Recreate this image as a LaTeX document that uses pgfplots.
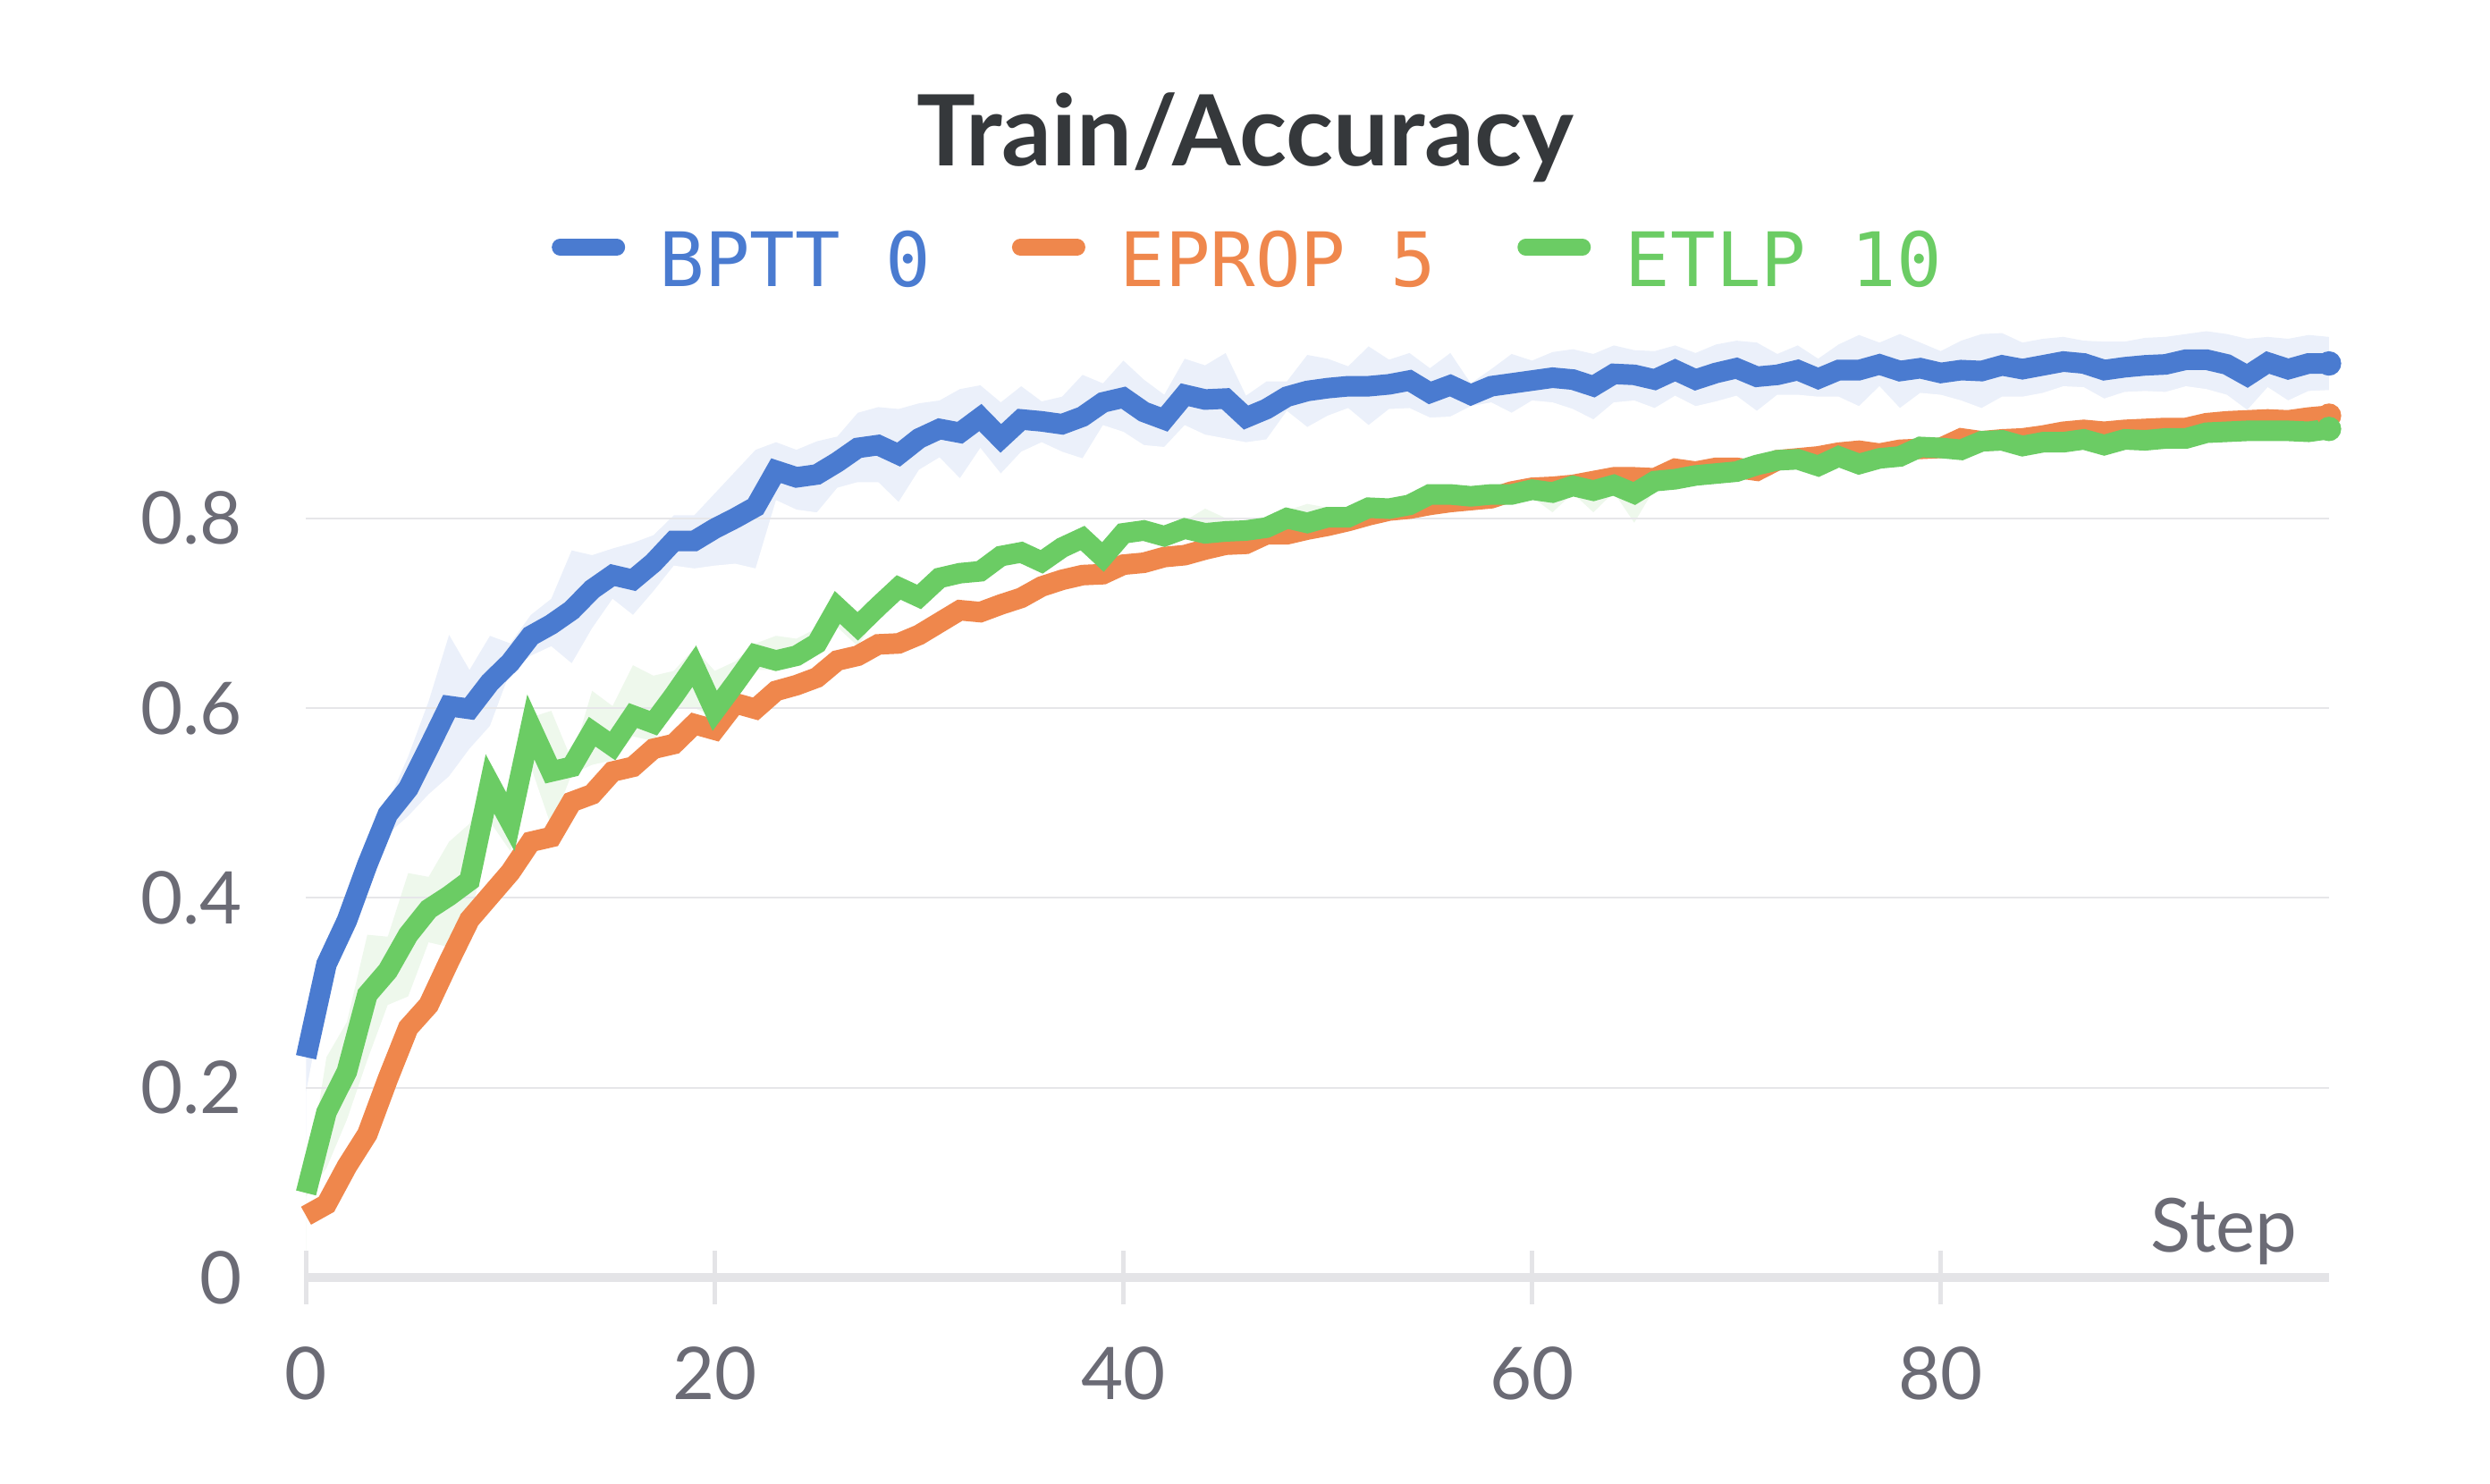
\documentclass[border=0pt]{standalone}
\usepackage{fontspec}
\setmainfont{Lato}
\newfontfamily\monofont{DejaVu Sans Mono}
\usepackage{pgfplots}
\usepackage{pgfplotstable}
\pgfplotsset{compat=1.18}
\definecolor{cblue}{HTML}{4A7BD0}
\definecolor{corange}{HTML}{EF874C}
\definecolor{cgreen}{HTML}{6BCC64}
\definecolor{bandblue}{HTML}{EBF0FA}
\definecolor{bandgreen}{HTML}{EEF8EC}
\definecolor{titlegray}{HTML}{35383B}
\definecolor{tickgray}{HTML}{6B6B75}
\definecolor{gridgray}{HTML}{E6E6E9}
\definecolor{axisgray}{HTML}{E4E4E7}

\pgfplotstableread{
s b bu bl o g gu gl
0 0.232 0.245 0.195 0.065 0.089 0.095 0.085
1 0.330 0.340 0.310 0.077 0.174 0.232 0.115
2 0.376 0.385 0.360 0.117 0.217 0.269 0.166
3 0.435 0.445 0.420 0.151 0.298 0.361 0.229
4 0.488 0.500 0.467 0.209 0.323 0.359 0.287
5 0.515 0.549 0.486 0.263 0.361 0.426 0.296
6 0.558 0.607 0.509 0.287 0.388 0.422 0.353
7 0.602 0.677 0.528 0.333 0.402 0.459 0.348
8 0.599 0.640 0.557 0.377 0.418 0.478 0.369
9 0.627 0.676 0.581 0.402 0.520 0.536 0.480
10 0.648 0.668 0.639 0.427 0.480 0.500 0.449
11 0.676 0.698 0.655 0.459 0.580 0.590 0.538
12 0.688 0.715 0.665 0.464 0.533 0.597 0.475
13 0.703 0.766 0.647 0.501 0.538 0.545 0.530
14 0.725 0.761 0.684 0.509 0.575 0.618 0.540
15 0.740 0.768 0.715 0.533 0.560 0.602 0.545
16 0.735 0.774 0.698 0.538 0.592 0.645 0.570
17 0.753 0.782 0.723 0.557 0.584 0.634 0.565
18 0.776 0.803 0.750 0.562 0.613 0.639 0.600
19 0.776 0.803 0.747 0.583 0.644 0.663 0.600
20 0.789 0.826 0.750 0.577 0.597 0.639 0.590
21 0.800 0.849 0.752 0.605 0.626 0.649 0.610
22 0.812 0.872 0.747 0.599 0.656 0.668 0.640
23 0.850 0.880 0.819 0.618 0.650 0.676 0.640
24 0.843 0.872 0.809 0.624 0.655 0.673 0.645
25 0.846 0.881 0.806 0.632 0.668 0.684 0.655
26 0.859 0.886 0.832 0.650 0.706 0.712 0.685
27 0.874 0.911 0.838 0.655 0.686 0.700 0.665
28 0.877 0.917 0.838 0.667 0.707 0.717 0.697
29 0.867 0.915 0.817 0.668 0.727 0.737 0.717
30 0.884 0.921 0.851 0.677 0.717 0.727 0.707
31 0.894 0.924 0.864 0.690 0.737 0.745 0.727
32 0.890 0.936 0.842 0.703 0.742 0.752 0.732
33 0.906 0.940 0.874 0.701 0.744 0.756 0.734
34 0.884 0.922 0.847 0.709 0.760 0.768 0.750
35 0.904 0.939 0.870 0.716 0.764 0.772 0.752
36 0.902 0.923 0.880 0.728 0.754 0.764 0.744
37 0.899 0.928 0.870 0.735 0.769 0.777 0.759
38 0.907 0.951 0.863 0.740 0.779 0.787 0.769
39 0.922 0.942 0.898 0.741 0.759 0.769 0.745
40 0.927 0.966 0.891 0.751 0.784 0.792 0.774
41 0.912 0.946 0.877 0.753 0.787 0.795 0.777
42 0.904 0.930 0.875 0.759 0.781 0.790 0.771
43 0.930 0.968 0.898 0.761 0.789 0.797 0.779
44 0.925 0.961 0.888 0.767 0.784 0.810 0.776
45 0.926 0.974 0.884 0.772 0.786 0.800 0.778
46 0.906 0.929 0.880 0.773 0.787 0.795 0.779
47 0.915 0.944 0.883 0.783 0.790 0.798 0.782
48 0.928 0.944 0.913 0.783 0.800 0.808 0.792
49 0.934 0.972 0.896 0.788 0.795 0.815 0.787
50 0.937 0.968 0.908 0.792 0.801 0.811 0.793
51 0.939 0.960 0.916 0.797 0.801 0.809 0.793
52 0.939 0.981 0.898 0.803 0.811 0.819 0.803
53 0.941 0.967 0.915 0.808 0.810 0.818 0.802
54 0.945 0.974 0.916 0.810 0.814 0.822 0.806
55 0.932 0.958 0.906 0.814 0.825 0.833 0.817
56 0.940 0.974 0.907 0.817 0.825 0.833 0.817
57 0.930 0.942 0.918 0.819 0.823 0.831 0.815
58 0.939 0.957 0.922 0.821 0.825 0.835 0.817
59 0.942 0.973 0.911 0.828 0.825 0.833 0.817
60 0.945 0.966 0.924 0.832 0.830 0.838 0.822
61 0.948 0.975 0.922 0.833 0.827 0.835 0.806
62 0.946 0.978 0.915 0.835 0.834 0.842 0.826
63 0.939 0.973 0.904 0.839 0.829 0.837 0.806
64 0.952 0.982 0.922 0.843 0.835 0.845 0.827
65 0.951 0.977 0.924 0.843 0.826 0.834 0.795
66 0.946 0.976 0.916 0.842 0.839 0.847 0.831
67 0.956 0.982 0.929 0.852 0.841 0.849 0.833
68 0.946 0.974 0.918 0.849 0.845 0.853 0.837
69 0.953 0.983 0.923 0.853 0.847 0.855 0.839
70 0.958 0.987 0.929 0.853 0.849 0.857 0.841
71 0.949 0.985 0.913 0.850 0.856 0.864 0.848
72 0.951 0.973 0.930 0.861 0.861 0.869 0.853
73 0.956 0.982 0.930 0.863 0.862 0.870 0.854
74 0.947 0.968 0.928 0.865 0.855 0.863 0.847
75 0.956 0.983 0.928 0.869 0.865 0.873 0.857
76 0.956 0.993 0.918 0.871 0.857 0.865 0.849
77 0.962 0.985 0.939 0.868 0.863 0.871 0.855
78 0.955 0.994 0.916 0.872 0.865 0.873 0.857
79 0.958 0.985 0.932 0.873 0.875 0.883 0.867
80 0.953 0.976 0.930 0.874 0.874 0.882 0.866
81 0.956 0.987 0.924 0.884 0.872 0.880 0.864
82 0.955 0.994 0.916 0.881 0.881 0.889 0.873
83 0.961 0.995 0.928 0.883 0.882 0.890 0.874
84 0.957 0.985 0.928 0.884 0.876 0.884 0.868
85 0.961 0.989 0.932 0.887 0.880 0.888 0.872
86 0.965 0.991 0.939 0.891 0.880 0.888 0.872
87 0.963 0.987 0.938 0.893 0.883 0.891 0.875
88 0.956 0.986 0.926 0.891 0.877 0.885 0.869
89 0.959 0.986 0.933 0.893 0.883 0.891 0.875
90 0.961 0.990 0.934 0.894 0.882 0.890 0.874
91 0.962 0.991 0.933 0.895 0.884 0.892 0.876
92 0.967 0.994 0.939 0.895 0.884 0.892 0.876
93 0.967 0.997 0.936 0.900 0.890 0.898 0.882
94 0.962 0.994 0.930 0.902 0.891 0.899 0.883
95 0.950 0.989 0.914 0.903 0.892 0.900 0.884
96 0.964 0.991 0.938 0.904 0.892 0.900 0.884
97 0.957 0.989 0.924 0.903 0.892 0.900 0.884
98 0.963 0.993 0.934 0.906 0.891 0.899 0.883
99 0.963 0.991 0.935 0.908 0.894 0.902 0.886
}\acctable

\pgfplotsset{
  geom/.style={at={(51.345pt,34.665pt)}, anchor=south west,
    scale only axis, width=339.4pt, height=159.24pt,
    xmin=0, xmax=99, ymin=0, ymax=1, clip=false},
}

\begin{document}
\begin{tikzpicture}
\useasboundingbox (0,0) rectangle (417.75pt,249pt);
% background: shaded min/max bands
\begin{axis}[geom, hide axis]
\addplot[fill=bandblue, draw=none] table[x=s,y=bu]{\acctable} \closedcycle;
\addplot[fill=white, draw=none] table[x=s,y=bl]{\acctable} \closedcycle;
\addplot[fill=bandgreen, draw=none] table[x=s,y=gu]{\acctable} \closedcycle;
\addplot[fill=white, draw=none] table[x=s,y=gl]{\acctable} \closedcycle;
\end{axis}
\begin{axis}[geom,
  axis x line=bottom, axis y line=left,
  y axis line style={draw=none},
  x axis line style={draw=axisgray, line width=1.5pt, -},
  xtick={0,20,40,60,80}, xticklabels={0,20,40,60,80},
  ytick={0,0.2,0.4,0.6,0.8}, yticklabels={0,0.2,0.4,0.6,0.8},
  tick align=center, major tick length=9pt,
  xtick style={draw=axisgray, line width=0.67pt},
  ytick style={draw=none},
  ymajorgrids, grid style={draw=gridgray, line width=0.3pt},
  xticklabel style={anchor=base, inner sep=0pt, yshift=-16pt, text=tickgray, font=\fontsize{12.2pt}{14pt}\selectfont},
  yticklabel style={anchor=east, inner sep=0pt, xshift=-6pt, text=tickgray, font=\fontsize{12.2pt}{14pt}\selectfont},
  legend columns=3,
  legend style={at={(rel axis cs:0.468,1.0691)}, anchor=center, draw=none, fill=none,
    font=\monofont\fontsize{12.6pt}{14pt}\selectfont,
    /tikz/every even column/.append style={column sep=11.6pt}},
  legend image code/.code={\path[draw=none, fill=none] (0pt,2.6pt) -- (16.1pt,2.6pt);
    \draw[#1, line width=2.8pt, line cap=round] (1.4pt,2.6pt) -- (10.9pt,2.6pt);},
]
\addplot[cblue, line width=3.45pt, line join=miter, miter limit=4,
  mark=*, mark repeat=100, mark phase=100, mark size=1.95pt, mark options={line width=0.2pt}] table[x=s,y=b]{\acctable};
\addlegendentry{\textcolor{cblue}{BPTT 0}}
\addplot[corange, line width=3.45pt, line join=miter, miter limit=4,
  mark=*, mark repeat=100, mark phase=100, mark size=1.95pt, mark options={line width=0.2pt}] table[x=s,y=o]{\acctable};
\addlegendentry{\textcolor{corange}{EPROP 5}}
\addplot[cgreen, line width=3.45pt, line join=miter, miter limit=4,
  mark=*, mark repeat=100, mark phase=100, mark size=1.95pt, mark options={line width=0.2pt}] table[x=s,y=g]{\acctable};
\addlegendentry{\textcolor{cgreen}{ETLP 10}}

\node[anchor=base east, inner sep=0pt, text=tickgray, font=\fontsize{12.5pt}{15pt}\selectfont] at (axis cs:97.5,0.027) {Step};
\node[anchor=base, inner sep=0pt, text=titlegray, font=\bfseries\fontsize{16.5pt}{19pt}\selectfont] at (rel axis cs:0.4644,1.1717) {Train/Accuracy};
\end{axis}
\end{tikzpicture}
\end{document}
